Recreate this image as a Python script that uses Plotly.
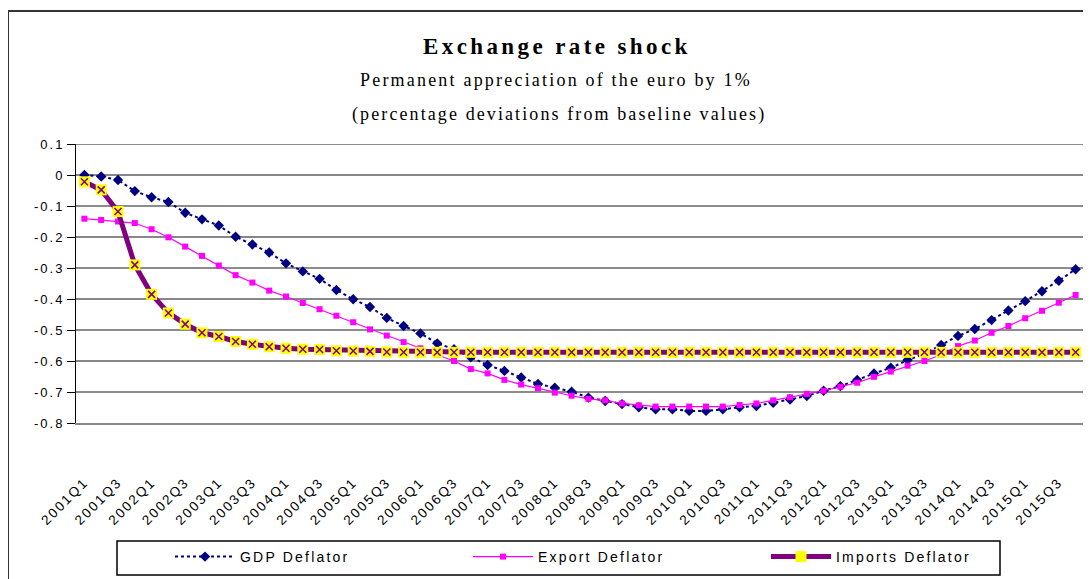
import plotly.graph_objects as go

quarters = [f"{y}Q{q}" for y in range(2001, 2016) for q in range(1, 5)]

gdp_deflator = [0.000, -0.005, -0.016, -0.052, -0.072, -0.087, -0.122, -0.143, -0.163, -0.199,
                -0.224, -0.250, -0.285, -0.311, -0.335, -0.371, -0.401, -0.426, -0.461, -0.487,
                -0.511, -0.543, -0.562, -0.588, -0.613, -0.632, -0.653, -0.674, -0.686, -0.699,
                -0.718, -0.729, -0.739, -0.749, -0.756, -0.756, -0.761, -0.761, -0.756, -0.749,
                -0.745, -0.735, -0.724, -0.713, -0.696, -0.681, -0.661, -0.640, -0.622, -0.597,
                -0.577, -0.548, -0.519, -0.497, -0.468, -0.437, -0.407, -0.375, -0.341, -0.304]

export_deflator = [-0.141, -0.145, -0.150, -0.155, -0.175, -0.201, -0.231, -0.261, -0.292, -0.323,
                   -0.347, -0.373, -0.392, -0.413, -0.433, -0.454, -0.475, -0.498, -0.518, -0.539,
                   -0.559, -0.580, -0.600, -0.626, -0.640, -0.661, -0.676, -0.688, -0.702, -0.712,
                   -0.722, -0.727, -0.737, -0.743, -0.747, -0.747, -0.747, -0.747, -0.747, -0.742,
                   -0.737, -0.727, -0.717, -0.706, -0.696, -0.683, -0.670, -0.651, -0.634, -0.615,
                   -0.600, -0.580, -0.552, -0.534, -0.509, -0.487, -0.462, -0.438, -0.412, -0.387]

imports_deflator = [-0.022, -0.048, -0.118, -0.290, -0.385, -0.445, -0.481, -0.509, -0.521, -0.537,
                    -0.546, -0.554, -0.559, -0.562, -0.563, -0.567, -0.568, -0.569, -0.571, -0.572,
                    -0.572, -0.572, -0.572, -0.572, -0.572, -0.572, -0.572, -0.572, -0.572, -0.572,
                    -0.572, -0.572, -0.572, -0.572, -0.572, -0.572, -0.572, -0.572, -0.572, -0.572,
                    -0.572, -0.572, -0.572, -0.572, -0.572, -0.572, -0.572, -0.572, -0.572, -0.572,
                    -0.572, -0.572, -0.572, -0.572, -0.572, -0.572, -0.572, -0.572, -0.572, -0.572]

y_tick_vals = [0.1, 0, -0.1, -0.2, -0.3, -0.4, -0.5, -0.6, -0.7, -0.8]
y_tick_text = ["0.1", "0", "-0.1", "-0.2", "-0.3", "-0.4", "-0.5", "-0.6", "-0.7", "-0.8"]
x_tick_vals = quarters[::2]

title_main = "Exchange rate shock"
title_sub1 = "Permanent appreciation of the euro by 1%"
title_sub2 = "(percentage deviations from baseline values)"

NARROW = "Liberation Sans Narrow, Arial Narrow, Liberation Sans, Arial, sans-serif"
SERIF = "Liberation Serif, Times New Roman, serif"

# The page body adds an 8px offset; plot area on screen is x 76..1084, y 144..423
OFF = 8
SL, SR, ST, SB = 76, 1084, 144, 423


def px_x(x):
    return (x - SL) / (SR - SL)


def px_y(y):
    return (SB - y) / (SB - ST)


def spaced(t, px):
    return f'<span style="letter-spacing:{px}px">{t}</span>'


fig = go.Figure()

# gridlines (alternating dark / grey as in the original rendering)
for k, v in enumerate(y_tick_vals[:-1]):
    dark = (k % 2 == 1)
    fig.add_hline(y=v, line=dict(color="#111111" if dark else "#8c8c8c", width=1.2 if dark else 2),
                  layer="below")

fig.add_trace(go.Scatter(
    x=quarters, y=gdp_deflator, name=spaced("GDP Deflator", 2.2), mode="lines+markers",
    line=dict(color="#000080", width=2, dash="dot"),
    marker=dict(symbol="diamond", size=8, color="#000080")))
fig.add_trace(go.Scatter(
    x=quarters, y=export_deflator, name=spaced("Export Deflator", 2.2), mode="lines+markers",
    line=dict(color="#FF00FF", width=1.2),
    marker=dict(symbol="square", size=6, color="#FF00FF")))
fig.add_trace(go.Scatter(
    x=quarters, y=imports_deflator, name=spaced("Imports Deflator", 2.2), mode="lines+markers",
    line=dict(color="#800080", width=5),
    marker=dict(symbol="square", size=11, color="#FFFF00")))
fig.add_trace(go.Scatter(
    x=quarters, y=imports_deflator, showlegend=False, mode="markers", hoverinfo="skip",
    marker=dict(symbol="x-thin-open", size=7, color="#800080", line=dict(color="#800080", width=1.5))))

fig.update_layout(
    width=1091, height=579,
    margin=dict(l=SL - OFF, r=1091 - (SR - OFF), t=ST - OFF, b=579 - (SB - OFF), autoexpand=False),
    paper_bgcolor="white", plot_bgcolor="white",
    font=dict(family=NARROW, size=12, color="black"),
    legend=dict(orientation="h", x=px_x(170), xanchor="left", y=px_y(541), yanchor="top",
                borderwidth=0, entrywidth=223, entrywidthmode="pixels",
                font=dict(family=NARROW, size=14, color="black"),
                itemwidth=60, tracegroupgap=0, bgcolor="rgba(0,0,0,0)"),
    showlegend=True,
)

fig.update_xaxes(
    type="category", range=[-0.5, 59.5], tickvals=x_tick_vals,
    ticktext=[spaced(t, 2) for t in x_tick_vals],
    tickangle=-45, ticks="", showgrid=False, zeroline=False,
    showline=True, linecolor="#888888", linewidth=2,
    ticklabelstandoff=44,
    tickfont=dict(family=NARROW, size=13.5, color="black"),
)
fig.update_yaxes(
    range=[-0.8, 0.1], tickvals=y_tick_vals, ticktext=[spaced(t, 2) for t in y_tick_text],
    ticks="outside", ticklen=8, tickcolor="black", tickwidth=1,
    showgrid=False, zeroline=False,
    showline=True, linecolor="black", linewidth=1,
    tickfont=dict(family=NARROW, size=13, color="black"),
)

# plot-area right border, legend box and outer chart border
fig.add_shape(type="line", xref="paper", yref="paper", x0=1, x1=1, y0=0, y1=1,
              line=dict(color="#888888", width=2))
fig.add_shape(type="rect", xref="paper", yref="paper",
              x0=px_x(117), x1=px_x(1000), y0=px_y(541), y1=px_y(575),
              line=dict(color="black", width=1.5))
fig.add_shape(type="rect", xref="paper", yref="paper",
              x0=px_x(8), x1=px_x(1100), y0=px_y(600), y1=px_y(11),
              line=dict(color="#333333", width=2), layer="below")

fig.add_annotation(text=spaced(f"<b>{title_main}</b>", 3.4), xref="paper", yref="paper",
                   x=px_x(557), y=px_y(47), xanchor="center", yanchor="middle", showarrow=False,
                   font=dict(family=SERIF, size=23, color="black"))
fig.add_annotation(text=spaced(title_sub1, 2.2), xref="paper", yref="paper",
                   x=px_x(556), y=px_y(80), xanchor="center", yanchor="middle", showarrow=False,
                   font=dict(family=SERIF, size=18, color="black"))
fig.add_annotation(text=spaced(title_sub2, 2.1), xref="paper", yref="paper",
                   x=px_x(559), y=px_y(114), xanchor="center", yanchor="middle", showarrow=False,
                   font=dict(family=SERIF, size=18, color="black"))

fig.write_html("out.html")
